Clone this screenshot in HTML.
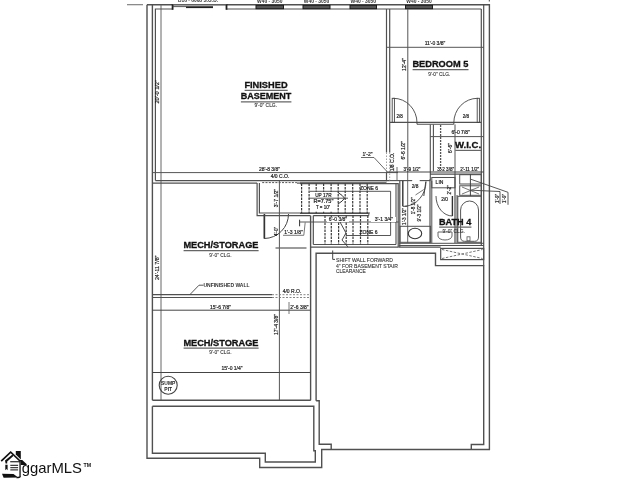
<!DOCTYPE html>
<html><head><meta charset="utf-8">
<style>
html,body{margin:0;padding:0;background:#fff;width:640px;height:480px;overflow:hidden}
svg{display:block;will-change:transform}
text{font-family:"Liberation Sans",sans-serif}
</style></head><body>
<svg width="640" height="480" viewBox="0 0 640 480">
<polyline points="147,4.7 147,458.3 259.7,458.3 259.7,467.5 321.7,467.5 321.7,449.5 489.4,449.5 489.4,4.7 147,4.7" fill="none" stroke="#505050" stroke-width="1.4" />
<line x1="152.4" y1="4.7" x2="152.4" y2="400.3" stroke="#505050" stroke-width="1.4" />
<line x1="161" y1="4.7" x2="161" y2="400.3" stroke="#666" stroke-width="1.0" />
<line x1="127" y1="4.7" x2="143" y2="4.7" stroke="#777" stroke-width="1.1" />
<line x1="489.3" y1="0" x2="489.3" y2="1.5" stroke="#444" stroke-width="1.0" />
<polyline points="155.4,180.6 155.4,9 172.6,9" fill="none" stroke="#505050" stroke-width="1.2" />
<line x1="226.5" y1="9" x2="481.3" y2="9" stroke="#505050" stroke-width="1.2" />
<line x1="172.6" y1="4" x2="172.6" y2="9.8" stroke="#222" stroke-width="1.8" />
<line x1="226.5" y1="4" x2="226.5" y2="9.8" stroke="#222" stroke-width="1.8" />
<line x1="172.6" y1="4.6" x2="226.5" y2="4.6" stroke="#666" stroke-width="0.9" />
<line x1="172.6" y1="6.6" x2="213" y2="6.6" stroke="#444" stroke-width="0.9" />
<line x1="186" y1="7.4" x2="213" y2="7.4" stroke="#222" stroke-width="1.4" />
<rect x="256" y="5.3" width="27.5" height="3.4" fill="#555" stroke="#1a1a1a" stroke-width="1.0" />
<text x="269.75" y="2.7" font-size="6.2" font-weight="bold" fill="#333" text-anchor="middle"  textLength="25.5" lengthAdjust="spacingAndGlyphs">W40 - 3050</text>
<rect x="303" y="5.3" width="27" height="3.4" fill="#555" stroke="#1a1a1a" stroke-width="1.0" />
<text x="316.5" y="2.7" font-size="6.2" font-weight="bold" fill="#333" text-anchor="middle"  textLength="25.5" lengthAdjust="spacingAndGlyphs">W40 - 3050</text>
<rect x="350" y="5.3" width="26.5" height="3.4" fill="#555" stroke="#1a1a1a" stroke-width="1.0" />
<text x="363.25" y="2.7" font-size="6.2" font-weight="bold" fill="#333" text-anchor="middle"  textLength="25.5" lengthAdjust="spacingAndGlyphs">W40 - 3050</text>
<rect x="405.5" y="5.3" width="27.0" height="3.4" fill="#555" stroke="#1a1a1a" stroke-width="1.0" />
<text x="419.0" y="2.7" font-size="6.2" font-weight="bold" fill="#333" text-anchor="middle"  textLength="25.5" lengthAdjust="spacingAndGlyphs">W40 - 3050</text>
<text x="198" y="2.4" font-size="6.2" font-weight="bold" fill="#333" text-anchor="middle"  textLength="40" lengthAdjust="spacingAndGlyphs">D16 - 6068 S.G.D.</text>
<line x1="152.4" y1="172.6" x2="398" y2="172.6" stroke="#555" stroke-width="1.0" />
<text x="269.5" y="170.8" font-size="5" font-weight="normal" fill="#1e1e1e" text-anchor="middle"  stroke="#1e1e1e" stroke-width="0.2">28'-8 3/8"</text>
<line x1="155.4" y1="180.6" x2="389.7" y2="180.6" stroke="#505050" stroke-width="1.2" />
<line x1="152.4" y1="183.1" x2="257.1" y2="183.1" stroke="#505050" stroke-width="1.2" />
<line x1="262.2" y1="182.6" x2="296.9" y2="182.6" stroke="#555" stroke-width="1.0" stroke-dasharray="2,1.3"/>
<line x1="296.9" y1="183.1" x2="300" y2="183.1" stroke="#505050" stroke-width="1.2" />
<text x="280" y="178.3" font-size="5" font-weight="normal" fill="#1e1e1e" text-anchor="middle"  stroke="#1e1e1e" stroke-width="0.2">4/0 C.O.</text>
<polyline points="257.1,183.1 257.1,215.6 264.4,215.6 264.4,238.8" fill="none" stroke="#505050" stroke-width="1.2" />
<polyline points="259.4,183.1 259.4,213 370,213" fill="none" stroke="#505050" stroke-width="1.2" />
<line x1="264.4" y1="214" x2="264.4" y2="238.5" stroke="#333" stroke-width="1.6" />
<path d="M288.5,214 A24.5,24.5 0 0 1 264.4,238.5" fill="none" stroke="#444" stroke-width="1.0" />
<line x1="279.4" y1="181" x2="279.4" y2="400.3" stroke="#555" stroke-width="1.0" />
<text x="277.5" y="198" font-size="5" font-weight="normal" fill="#1e1e1e" text-anchor="middle" transform="rotate(-90 277.5 198)"  stroke="#1e1e1e" stroke-width="0.2">3'-7 1/2"</text>
<text x="277.5" y="231.5" font-size="5" font-weight="normal" fill="#1e1e1e" text-anchor="middle" transform="rotate(-90 277.5 231.5)"  textLength="9" lengthAdjust="spacingAndGlyphs" stroke="#1e1e1e" stroke-width="0.2">4'-0"</text>
<line x1="275.5" y1="248" x2="306.5" y2="248" stroke="#666" stroke-width="1.3" />
<line x1="299.6" y1="219.7" x2="299.6" y2="226.3" stroke="#333" stroke-width="1.0" />
<line x1="264.4" y1="215.6" x2="310.5" y2="215.6" stroke="#505050" stroke-width="1.1" />
<line x1="305.2" y1="222.5" x2="303.8" y2="235.3" stroke="#555" stroke-width="0.8" />
<text x="293.5" y="234" font-size="5" font-weight="normal" fill="#1e1e1e" text-anchor="middle"  textLength="18.5" lengthAdjust="spacingAndGlyphs" stroke="#1e1e1e" stroke-width="0.2">1'-3 1/8"</text>
<line x1="283" y1="235.3" x2="303.8" y2="235.3" stroke="#555" stroke-width="0.8" />
<line x1="386.5" y1="9" x2="386.5" y2="152.5" stroke="#505050" stroke-width="1.2" />
<line x1="389.7" y1="9" x2="389.7" y2="152.5" stroke="#505050" stroke-width="1.2" />
<line x1="386.5" y1="152.5" x2="386.5" y2="181.2" stroke="#888" stroke-width="0.8" stroke-dasharray="1.5,1.5"/>
<line x1="389.7" y1="152.5" x2="389.7" y2="180.6" stroke="#888" stroke-width="0.8" stroke-dasharray="1.5,1.5"/>
<line x1="386.5" y1="172.6" x2="386.5" y2="181.2" stroke="#505050" stroke-width="1.2" />
<text x="394" y="162" font-size="5" font-weight="normal" fill="#1e1e1e" text-anchor="middle" transform="rotate(-90 394 162)"  stroke="#1e1e1e" stroke-width="0.2">1/8 C.O.</text>
<text x="367.5" y="155.5" font-size="5" font-weight="normal" fill="#1e1e1e" text-anchor="middle"  stroke="#1e1e1e" stroke-width="0.2">1'-2"</text>
<polyline points="361,157.5 374,157.5 387,171.5" fill="none" stroke="#444" stroke-width="0.8" />
<polyline points="300,183.6 398.2,183.6 398.2,247.2" fill="none" stroke="#505050" stroke-width="1.2" />
<line x1="300" y1="182.3" x2="386.5" y2="182.3" stroke="#505050" stroke-width="1.0" />
<line x1="300" y1="213.3" x2="368.8" y2="213.3" stroke="#505050" stroke-width="1.2" />
<line x1="313.3" y1="215.6" x2="368.8" y2="215.6" stroke="#505050" stroke-width="1.2" />
<line x1="368.8" y1="213.3" x2="368.8" y2="215.6" stroke="#505050" stroke-width="1.0" />
<line x1="396" y1="183.6" x2="396" y2="244.5" stroke="#505050" stroke-width="1.1" />
<line x1="313.3" y1="244.5" x2="396" y2="244.5" stroke="#505050" stroke-width="1.2" />
<line x1="301.6" y1="183.6" x2="301.6" y2="213.3" stroke="#3a3a3a" stroke-width="1.2" stroke-dasharray="2.4,1.1"/>
<line x1="309.1" y1="183.6" x2="309.1" y2="213.3" stroke="#3a3a3a" stroke-width="1.2" stroke-dasharray="2.4,1.1"/>
<line x1="316.2" y1="183.6" x2="316.2" y2="213.3" stroke="#3a3a3a" stroke-width="1.2" stroke-dasharray="2.4,1.1"/>
<line x1="323.6" y1="183.6" x2="323.6" y2="213.3" stroke="#3a3a3a" stroke-width="1.2" stroke-dasharray="2.4,1.1"/>
<line x1="331.1" y1="183.6" x2="331.1" y2="213.3" stroke="#3a3a3a" stroke-width="1.2" stroke-dasharray="2.4,1.1"/>
<line x1="338.2" y1="183.6" x2="338.2" y2="213.3" stroke="#3a3a3a" stroke-width="1.2" stroke-dasharray="2.4,1.1"/>
<line x1="345.2" y1="183.6" x2="345.2" y2="213.3" stroke="#3a3a3a" stroke-width="1.2" stroke-dasharray="2.4,1.1"/>
<line x1="352.7" y1="183.6" x2="352.7" y2="213.3" stroke="#3a3a3a" stroke-width="1.2" stroke-dasharray="2.4,1.1"/>
<line x1="360" y1="183.6" x2="360" y2="213.3" stroke="#3a3a3a" stroke-width="1.2" stroke-dasharray="2.4,1.1"/>
<line x1="367.2" y1="183.6" x2="367.2" y2="213.3" stroke="#3a3a3a" stroke-width="1.2" stroke-dasharray="2.4,1.1"/>
<line x1="325" y1="215.6" x2="325" y2="244.5" stroke="#3a3a3a" stroke-width="1.2" stroke-dasharray="2.4,1.1"/>
<line x1="331.3" y1="215.6" x2="331.3" y2="244.5" stroke="#3a3a3a" stroke-width="1.2" stroke-dasharray="2.4,1.1"/>
<line x1="338.6" y1="215.6" x2="338.6" y2="244.5" stroke="#3a3a3a" stroke-width="1.2" stroke-dasharray="2.4,1.1"/>
<line x1="346.2" y1="215.6" x2="346.2" y2="244.5" stroke="#3a3a3a" stroke-width="1.2" stroke-dasharray="2.4,1.1"/>
<line x1="353" y1="215.6" x2="353" y2="244.5" stroke="#3a3a3a" stroke-width="1.2" stroke-dasharray="2.4,1.1"/>
<line x1="360.5" y1="215.6" x2="360.5" y2="244.5" stroke="#3a3a3a" stroke-width="1.2" stroke-dasharray="2.4,1.1"/>
<line x1="367.8" y1="215.6" x2="367.8" y2="244.5" stroke="#3a3a3a" stroke-width="1.2" stroke-dasharray="2.4,1.1"/>
<line x1="313.3" y1="215.6" x2="313.3" y2="244.5" stroke="#505050" stroke-width="1.2" />
<text x="369" y="190" font-size="5" font-weight="normal" fill="#1e1e1e" text-anchor="middle"  stroke="#1e1e1e" stroke-width="0.2">ZONE 6</text>
<text x="368.5" y="234" font-size="5" font-weight="normal" fill="#1e1e1e" text-anchor="middle"  stroke="#1e1e1e" stroke-width="0.2">ZONE 6</text>
<polyline points="310,191.3 390.6,191.3 390.6,235.5 346,235.5" fill="none" stroke="#444" stroke-width="0.9" />
<rect x="311" y="192" width="25" height="19.5" fill="#fff" stroke="none" stroke-width="0" />
<line x1="308.7" y1="198.2" x2="348" y2="198.2" stroke="#444" stroke-width="0.9" />
<text x="323.4" y="196.8" font-size="5" font-weight="normal" fill="#1e1e1e" text-anchor="middle"  textLength="16.4" lengthAdjust="spacingAndGlyphs" stroke="#1e1e1e" stroke-width="0.2">UP 17R</text>
<text x="323.4" y="203.3" font-size="5" font-weight="normal" fill="#1e1e1e" text-anchor="middle"  textLength="20" lengthAdjust="spacingAndGlyphs" stroke="#1e1e1e" stroke-width="0.2">R=7.75"</text>
<text x="323.1" y="208.9" font-size="5" font-weight="normal" fill="#1e1e1e" text-anchor="middle"  textLength="14.2" lengthAdjust="spacingAndGlyphs" stroke="#1e1e1e" stroke-width="0.2">T = 10"</text>
<path d="M338,192.5 Q343,195.5 344.5,198.2 Q343,201 338,204" fill="none" stroke="#333" stroke-width="1.0" />
<line x1="300" y1="222" x2="398.5" y2="222" stroke="#444" stroke-width="0.9" />
<rect x="327" y="217" width="22" height="5" fill="#fff" stroke="none" stroke-width="0" />
<text x="338" y="220.5" font-size="5" font-weight="normal" fill="#1e1e1e" text-anchor="middle"  stroke="#1e1e1e" stroke-width="0.2">6'-0 3/8"</text>
<rect x="371" y="217" width="25" height="5" fill="#fff" stroke="none" stroke-width="0" />
<text x="384" y="221" font-size="5" font-weight="normal" fill="#1e1e1e" text-anchor="middle"  stroke="#1e1e1e" stroke-width="0.2">3'-1 3/4"</text>
<path d="M340,222 L346,233 L342,240 L348,247" fill="none" stroke="#333" stroke-width="0.9" />
<line x1="310.5" y1="247.2" x2="398.5" y2="247.2" stroke="#505050" stroke-width="1.3" />
<line x1="310.6" y1="215.6" x2="310.6" y2="400.3" stroke="#505050" stroke-width="1.4" />
<polyline points="316.1,400.8 316.1,253.3 435.5,253.3 435.5,265.6 483.7,265.6 483.7,444.5 471.3,444.5 471.3,449.5" fill="none" stroke="#505050" stroke-width="1.4" />
<polyline points="316.1,400.8 319.2,400.8 319.2,444.2 331.2,444.2 331.2,449.5" fill="none" stroke="#505050" stroke-width="1.4" />
<polyline points="332.7,250.5 332.7,259.4 335,259.4" fill="none" stroke="#444" stroke-width="1.0" />
<text x="336" y="261.8" font-size="5.2" font-weight="normal" fill="#333" text-anchor="start"  stroke="#333" stroke-width="0.1" textLength="56.8" lengthAdjust="spacingAndGlyphs">SHIFT WALL FORWARD</text>
<text x="336" y="267.5" font-size="5.2" font-weight="normal" fill="#333" text-anchor="start"  stroke="#333" stroke-width="0.1" textLength="61.8" lengthAdjust="spacingAndGlyphs">4" FOR BASEMENT STAIR</text>
<text x="336" y="273.3" font-size="5.2" font-weight="normal" fill="#333" text-anchor="start"  stroke="#333" stroke-width="0.1" textLength="29.8" lengthAdjust="spacingAndGlyphs">CLEARANCE</text>
<line x1="152.4" y1="294.7" x2="272" y2="294.7" stroke="#505050" stroke-width="1.2" />
<line x1="152.4" y1="297.5" x2="272" y2="297.5" stroke="#505050" stroke-width="1.2" />
<line x1="272" y1="294.7" x2="310.7" y2="294.7" stroke="#777" stroke-width="0.9" stroke-dasharray="2,1.5"/>
<line x1="272" y1="297.5" x2="310.7" y2="297.5" stroke="#777" stroke-width="0.9" stroke-dasharray="2,1.5"/>
<text x="292" y="293.3" font-size="5" font-weight="normal" fill="#1e1e1e" text-anchor="middle"  stroke="#1e1e1e" stroke-width="0.2">4/0 R.O.</text>
<text x="226.5" y="287" font-size="5" font-weight="bold" fill="#333" text-anchor="middle" >UNFINISHED WALL</text>
<polyline points="190,294.5 199,285.2 203.5,285.2" fill="none" stroke="#444" stroke-width="0.9" />
<line x1="152.4" y1="310.2" x2="310.7" y2="310.2" stroke="#444" stroke-width="1.0" />
<text x="220.5" y="309.3" font-size="5" font-weight="normal" fill="#1e1e1e" text-anchor="middle"  stroke="#1e1e1e" stroke-width="0.2">15'-6 7/8"</text>
<line x1="289" y1="302" x2="289" y2="314" stroke="#555" stroke-width="0.8" />
<text x="299.5" y="309.3" font-size="5" font-weight="normal" fill="#1e1e1e" text-anchor="middle"  stroke="#1e1e1e" stroke-width="0.2">2'-6 3/8"</text>
<text x="278" y="324.5" font-size="5" font-weight="normal" fill="#1e1e1e" text-anchor="middle" transform="rotate(-90 278 324.5)"  stroke="#1e1e1e" stroke-width="0.2">17'-4 3/8"</text>
<text x="159.4" y="267.8" font-size="5.6" font-weight="normal" fill="#1e1e1e" text-anchor="middle" transform="rotate(-90 159.4 267.8)"  textLength="24.5" lengthAdjust="spacingAndGlyphs" stroke="#1e1e1e" stroke-width="0.2">24'-11 7/8"</text>
<text x="159.4" y="91.8" font-size="5.8" font-weight="normal" fill="#1e1e1e" text-anchor="middle" transform="rotate(-90 159.4 91.8)"  textLength="23.5" lengthAdjust="spacingAndGlyphs" stroke="#1e1e1e" stroke-width="0.2">20'-0 1/2"</text>
<line x1="152.4" y1="372.5" x2="310.7" y2="372.5" stroke="#444" stroke-width="1.0" />
<text x="232" y="370" font-size="5" font-weight="normal" fill="#1e1e1e" text-anchor="middle"  stroke="#1e1e1e" stroke-width="0.2">15'-0 1/4"</text>
<circle cx="168.2" cy="385.2" r="9" fill="none" stroke="#444" stroke-width="1.1"/>
<text x="168.2" y="384.8" font-size="5.0" font-weight="bold" fill="#222" text-anchor="middle"  textLength="14.2" lengthAdjust="spacingAndGlyphs">SUMP</text>
<text x="168.2" y="390.5" font-size="5.0" font-weight="bold" fill="#222" text-anchor="middle"  textLength="7.8" lengthAdjust="spacingAndGlyphs">PIT</text>
<line x1="152.4" y1="400.3" x2="310.7" y2="400.3" stroke="#505050" stroke-width="1.4" />
<polyline points="152.4,406.2 313.8,406.2 313.8,450.8 315.3,450.8 315.3,462 265.3,462 265.3,453.3 152.4,453.3 152.4,406.2" fill="none" stroke="#505050" stroke-width="1.4" />
<line x1="407.8" y1="9" x2="407.8" y2="122.4" stroke="#555" stroke-width="1.0" />
<line x1="386.5" y1="47.3" x2="483.7" y2="47.3" stroke="#555" stroke-width="1.0" />
<text x="435" y="45" font-size="5" font-weight="normal" fill="#1e1e1e" text-anchor="middle"  stroke="#1e1e1e" stroke-width="0.2">11'-0 3/8"</text>
<text x="405.6" y="64.5" font-size="5" font-weight="normal" fill="#1e1e1e" text-anchor="middle" transform="rotate(-90 405.6 64.5)"  stroke="#1e1e1e" stroke-width="0.2">12'-4"</text>
<line x1="481.3" y1="9" x2="481.3" y2="245.5" stroke="#505050" stroke-width="1.2" />
<line x1="483.7" y1="4.7" x2="483.7" y2="265.6" stroke="#505050" stroke-width="1.2" />
<line x1="389.7" y1="122.4" x2="481.3" y2="122.4" stroke="#505050" stroke-width="1.2" />
<line x1="417" y1="124.3" x2="453.8" y2="124.3" stroke="#505050" stroke-width="1.1" />
<line x1="417" y1="122.4" x2="417" y2="124.3" stroke="#505050" stroke-width="1.1" />
<line x1="453.8" y1="122.4" x2="453.8" y2="124.3" stroke="#505050" stroke-width="1.1" />
<rect x="392.2" y="98.3" width="2.2" height="24.2" fill="none" stroke="#444" stroke-width="0.9" />
<path d="M393.5,98.3 A23.5,24.5 0 0 1 417,122.8" fill="none" stroke="#444" stroke-width="0.9" />
<rect x="477.2" y="98.3" width="2.2" height="24.2" fill="none" stroke="#444" stroke-width="0.9" />
<path d="M477.5,98.3 A23.7,24.5 0 0 0 453.8,122.8" fill="none" stroke="#444" stroke-width="0.9" />
<text x="399.7" y="117.5" font-size="4.5" font-weight="normal" fill="#1e1e1e" text-anchor="middle"  stroke="#1e1e1e" stroke-width="0.2">2/8</text>
<text x="466" y="117.5" font-size="4.5" font-weight="normal" fill="#1e1e1e" text-anchor="middle"  stroke="#1e1e1e" stroke-width="0.2">2/8</text>
<line x1="430.3" y1="124.4" x2="430.3" y2="180.6" stroke="#505050" stroke-width="1.1" />
<line x1="433.4" y1="124.4" x2="433.4" y2="171.3" stroke="#505050" stroke-width="1.1" />
<line x1="440.6" y1="125" x2="440.6" y2="171" stroke="#555" stroke-width="1.3" stroke-dasharray="2,1"/>
<line x1="407.8" y1="122.4" x2="407.8" y2="172" stroke="#555" stroke-width="1.0" />
<line x1="455" y1="124.4" x2="455" y2="175" stroke="#555" stroke-width="1.0" />
<line x1="430.3" y1="136.6" x2="483.7" y2="136.6" stroke="#555" stroke-width="1.0" />
<text x="460.7" y="134" font-size="5" font-weight="normal" fill="#1e1e1e" text-anchor="middle"  stroke="#1e1e1e" stroke-width="0.2">6'-0 7/8"</text>
<text x="405.5" y="150.3" font-size="5" font-weight="normal" fill="#1e1e1e" text-anchor="middle" transform="rotate(-90 405.5 150.3)"  stroke="#1e1e1e" stroke-width="0.2">6'-6 1/2"</text>
<text x="451.5" y="148" font-size="5" font-weight="normal" fill="#1e1e1e" text-anchor="middle" transform="rotate(-90 451.5 148)"  stroke="#1e1e1e" stroke-width="0.2">6'-6"</text>
<line x1="386.5" y1="172" x2="483.7" y2="172" stroke="#444" stroke-width="1.0" />
<text x="412" y="170.6" font-size="4.6" font-weight="normal" fill="#1e1e1e" text-anchor="middle"  stroke="#1e1e1e" stroke-width="0.2">3'-9 1/2"</text>
<text x="445.7" y="170.6" font-size="4.6" font-weight="normal" fill="#1e1e1e" text-anchor="middle"  stroke="#1e1e1e" stroke-width="0.2">3'-2 3/8"</text>
<text x="469.7" y="170.6" font-size="4.6" font-weight="normal" fill="#1e1e1e" text-anchor="middle"  stroke="#1e1e1e" stroke-width="0.2">2'-11 1/2"</text>
<line x1="430" y1="174.2" x2="481.3" y2="174.2" stroke="#505050" stroke-width="1.2" />
<line x1="389.7" y1="180.6" x2="412.2" y2="180.6" stroke="#505050" stroke-width="1.1" />
<line x1="419.7" y1="180.6" x2="430.3" y2="180.6" stroke="#505050" stroke-width="1.1" />
<line x1="397" y1="167" x2="397" y2="180" stroke="#444" stroke-width="0.8" />
<line x1="399.8" y1="181" x2="399.8" y2="247" stroke="#505050" stroke-width="1.2" />
<line x1="407.7" y1="171" x2="407.7" y2="243" stroke="#555" stroke-width="0.9" />
<line x1="430" y1="179.2" x2="430" y2="243" stroke="#505050" stroke-width="1.2" />
<line x1="431.8" y1="180.8" x2="431.8" y2="243" stroke="#505050" stroke-width="1.0" />
<line x1="455" y1="174.5" x2="455" y2="243" stroke="#505050" stroke-width="1.2" />
<line x1="457" y1="195" x2="457" y2="243" stroke="#505050" stroke-width="1.0" />
<rect x="431.8" y="177.5" width="23.2" height="10.3" fill="none" stroke="#505050" stroke-width="1.0" />
<text x="439.5" y="184" font-size="5" font-weight="normal" fill="#1e1e1e" text-anchor="middle"  stroke="#1e1e1e" stroke-width="0.2">LIN</text>
<text x="451" y="190" font-size="4.5" font-weight="normal" fill="#1e1e1e" text-anchor="middle" transform="rotate(-90 451 190)"  stroke="#1e1e1e" stroke-width="0.2">2'-2"</text>
<text x="444.7" y="200.5" font-size="4.8" font-weight="normal" fill="#1e1e1e" text-anchor="middle"  stroke="#1e1e1e" stroke-width="0.2">2/0</text>
<line x1="452.4" y1="196" x2="452.4" y2="216" stroke="#333" stroke-width="1.4" />
<path d="M436,196 A16.4,20 0 0 0 452.4,216" fill="none" stroke="#444" stroke-width="0.9" />
<line x1="402.8" y1="180.8" x2="402.8" y2="206.3" stroke="#333" stroke-width="1.4" />
<line x1="402.8" y1="206.3" x2="407.5" y2="206.3" stroke="#444" stroke-width="1.0" />
<path d="M405,206.3 A22.5,25 0 0 0 426,181.5" fill="none" stroke="#444" stroke-width="0.9" />
<line x1="425.8" y1="181.7" x2="423.8" y2="196" stroke="#444" stroke-width="1.0" />
<line x1="423.8" y1="189.5" x2="415.5" y2="195" stroke="#555" stroke-width="0.8" />
<text x="415" y="187.5" font-size="4.8" font-weight="normal" fill="#1e1e1e" text-anchor="middle"  stroke="#1e1e1e" stroke-width="0.2">2/8</text>
<text x="406" y="216.5" font-size="4.6" font-weight="normal" fill="#1e1e1e" text-anchor="middle" transform="rotate(-90 406 216.5)"  stroke="#1e1e1e" stroke-width="0.2">1'-3 1/2"</text>
<text x="414.6" y="205.8" font-size="4.6" font-weight="normal" fill="#1e1e1e" text-anchor="middle" transform="rotate(-90 414.6 205.8)"  stroke="#1e1e1e" stroke-width="0.2">1'-8 1/2"</text>
<text x="421" y="213" font-size="4.6" font-weight="normal" fill="#1e1e1e" text-anchor="middle" transform="rotate(-90 421 213)"  stroke="#1e1e1e" stroke-width="0.2">9'-3 1/2"</text>
<rect x="400" y="226.3" width="30.6" height="16" fill="none" stroke="#505050" stroke-width="1.0" />
<ellipse cx="415" cy="233.5" rx="6.7" ry="5.2" fill="none" stroke="#333" stroke-width="1.1"/>
<rect x="457.8" y="196.3" width="23.5" height="46" fill="none" stroke="#505050" stroke-width="1.0" />
<path d="M460.6,237 L460.6,210 A8.95,9 0 0 1 478.5,210 L478.5,237 Q478.5,241.3 474.5,241.3 L464.6,241.3 Q460.6,241.3 460.6,237 Z" fill="none" stroke="#555" stroke-width="1.0" />
<rect x="467" y="236.8" width="3" height="4" fill="none" stroke="#555" stroke-width="0.8" />
<path d="M438,232 L452,232 L452,236 A7,4 0 0 1 438,236 Z" fill="none" stroke="#666" stroke-width="1.0" />
<rect x="459.7" y="174.7" width="21.6" height="9.3" fill="none" stroke="#505050" stroke-width="1.0" />
<rect x="459.7" y="185.8" width="21.6" height="9.5" fill="none" stroke="#505050" stroke-width="1.0" />
<polyline points="462,187 479,194" fill="none" stroke="#555" stroke-width="0.8" />
<polyline points="462,194 479,187" fill="none" stroke="#555" stroke-width="0.8" />
<line x1="470.4" y1="174" x2="470.4" y2="196" stroke="#444" stroke-width="1.0" />
<polyline points="471,179.3 508,192.3 508,204.8" fill="none" stroke="#444" stroke-width="0.9" />
<polyline points="471,190.2 500,191.5 500,204" fill="none" stroke="#444" stroke-width="0.9" />
<text x="499" y="198.5" font-size="4.5" font-weight="normal" fill="#1e1e1e" text-anchor="middle" transform="rotate(-90 499 198.5)"  stroke="#1e1e1e" stroke-width="0.2">1'-9"</text>
<text x="506" y="198.5" font-size="4.5" font-weight="normal" fill="#1e1e1e" text-anchor="middle" transform="rotate(-90 506 198.5)"  stroke="#1e1e1e" stroke-width="0.2">1'-9"</text>
<line x1="398.7" y1="243.3" x2="483.7" y2="243.3" stroke="#505050" stroke-width="1.0" />
<line x1="398.7" y1="245.5" x2="483.7" y2="245.5" stroke="#505050" stroke-width="1.2" />
<line x1="398.7" y1="247.2" x2="440.7" y2="247.2" stroke="#505050" stroke-width="1.2" />
<rect x="440.7" y="248.4" width="43" height="11.2" fill="none" stroke="#505050" stroke-width="1.2" />
<path d="M442,249.5 L482.5,258.5 M442,258.5 L482.5,249.5" fill="none" stroke="#666" stroke-width="0.9" stroke-dasharray="2.5,1.5"/>
<text x="244.4" y="88.35" font-size="9.08" font-weight="bold" fill="#111" text-anchor="start" stroke="#111" stroke-width="0.3" textLength="43.2" lengthAdjust="spacingAndGlyphs">FINISHED</text>
<line x1="244.6" y1="90.4" x2="287.70000000000005" y2="90.4" stroke="#666" stroke-width="1.2" />
<text x="240.7" y="99.39999999999999" font-size="8.72" font-weight="bold" fill="#111" text-anchor="start" stroke="#111" stroke-width="0.3" textLength="50.6" lengthAdjust="spacingAndGlyphs">BASEMENT</text>
<line x1="240.89999999999998" y1="101.95" x2="291.40000000000003" y2="101.95" stroke="#666" stroke-width="1.2" />
<text x="254.39999999999998" y="107.10000000000001" font-size="5.32" font-weight="normal" fill="#333" text-anchor="start"  stroke="#333" stroke-width="0.12" textLength="22.7" lengthAdjust="spacingAndGlyphs">9'-0" CLG.</text>
<text x="412.4" y="67.05" font-size="9.45" font-weight="bold" fill="#111" text-anchor="start" stroke="#111" stroke-width="0.3" textLength="56.0" lengthAdjust="spacingAndGlyphs">BEDROOM 5</text>
<line x1="412.59999999999997" y1="69.6" x2="468.5" y2="69.6" stroke="#666" stroke-width="1.2" />
<text x="428.2" y="75.5" font-size="5.32" font-weight="normal" fill="#333" text-anchor="start"  stroke="#333" stroke-width="0.12" textLength="22.0" lengthAdjust="spacingAndGlyphs">9'-0" CLG.</text>
<text x="455.0" y="148.35000000000002" font-size="9.08" font-weight="bold" fill="#111" text-anchor="start" stroke="#111" stroke-width="0.3" textLength="26.1" lengthAdjust="spacingAndGlyphs">W.I.C.</text>
<line x1="455.2" y1="150.4" x2="481.20000000000005" y2="150.4" stroke="#666" stroke-width="1.2" />
<text x="439.0" y="225.05" font-size="9.08" font-weight="bold" fill="#111" text-anchor="start" stroke="#111" stroke-width="0.3" textLength="32.3" lengthAdjust="spacingAndGlyphs">BATH 4</text>
<line x1="439.2" y1="227.1" x2="471.40000000000003" y2="227.1" stroke="#666" stroke-width="1.2" />
<text x="442.4" y="232.7" font-size="6.13" font-weight="normal" fill="#333" text-anchor="start"  stroke="#333" stroke-width="0.12" textLength="22.6" lengthAdjust="spacingAndGlyphs">9'-0" CLG.</text>
<text x="183.4" y="248.25" font-size="9.38" font-weight="bold" fill="#111" text-anchor="start" stroke="#111" stroke-width="0.3" textLength="75.1" lengthAdjust="spacingAndGlyphs">MECH/STORAGE</text>
<line x1="183.6" y1="250.6" x2="258.6" y2="250.6" stroke="#666" stroke-width="1.2" />
<text x="209.2" y="256.5" font-size="6.13" font-weight="normal" fill="#333" text-anchor="start"  stroke="#333" stroke-width="0.12" textLength="22.4" lengthAdjust="spacingAndGlyphs">9'-0" CLG.</text>
<text x="183.4" y="345.55" font-size="9.01" font-weight="bold" fill="#111" text-anchor="start" stroke="#111" stroke-width="0.3" textLength="75.1" lengthAdjust="spacingAndGlyphs">MECH/STORAGE</text>
<line x1="183.6" y1="348.1" x2="258.6" y2="348.1" stroke="#666" stroke-width="1.2" />
<text x="209.2" y="353.8" font-size="5.65" font-weight="normal" fill="#333" text-anchor="start"  stroke="#333" stroke-width="0.12" textLength="22.4" lengthAdjust="spacingAndGlyphs">9'-0" CLG.</text>

<g fill="#111" stroke="none">
<path d="M0.6,460.6 L10.7,450.9 L20.6,460.5 L19.4,461.6 L10.7,453.2 L1.8,461.7 Z"/>
<path d="M15.8,451 L20.8,451 L20.8,459.4 L15.8,454.6 Z"/>
<path d="M19.6,460.1 L22.2,460.1 L26.8,464.2 L26.5,465 L20.8,465 L20.8,462 Z"/>
<path d="M5.0,460.4 L12.4,454.6 L13.4,455.9 L7.2,461.5 L7.2,463.6 L5.6,463.6 Z"/>
<rect x="10.2" y="461.2" width="10.2" height="1.1"/>
<rect x="19.4" y="461.2" width="1.3" height="16"/>
<path d="M20.7,476.5 Q20.5,478.2 18.4,478.2 L16.4,478.2 L16.6,477 L19.4,476.5 Z"/>
<rect x="10.3" y="464.8" width="7.8" height="1.0"/>
<rect x="10.3" y="467.2" width="7.8" height="1.0"/>
<rect x="10.3" y="469.4" width="7.8" height="1.0"/>
<path d="M5.3,464.8 L7.6,464.8 L7.6,470.2 L6.5,469 L5.3,470.2 Z"/>
<path d="M2.0,473.8 L13.5,474.1 L18.2,477.6 L3.6,477.8 Z"/>
</g>
<text x="21.8" y="473.4" font-size="14.5" fill="#111" textLength="60.2" lengthAdjust="spacingAndGlyphs">ggarMLS</text>
<text x="83.6" y="467" font-size="6.2" font-weight="bold" fill="#111" textLength="7.6" lengthAdjust="spacingAndGlyphs">TM</text>

</svg>
</body></html>
